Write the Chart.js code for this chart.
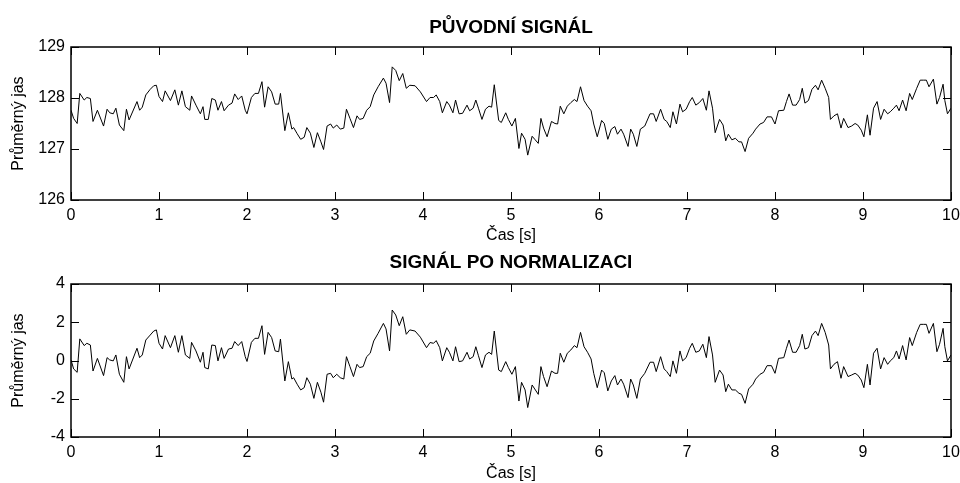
<!DOCTYPE html>
<html>
<head>
<meta charset="utf-8">
<script src="https://cdn.jsdelivr.net/npm/chart.js@4/dist/chart.umd.min.js"></script>
<style>
  html, body { margin: 0; padding: 0; background: #fff; }
  #wrap { position: relative; width: 960px; height: 483px; }
  canvas { position: absolute; left: 0; }
  #cTop { top: 0; }
  #cBottom { top: 250px; }
</style>
</head>
<body>
<div id="wrap">
  <canvas id="cTop" width="960" height="250"></canvas>
  <canvas id="cBottom" width="960" height="233"></canvas>
</div>
<script>
// Sample times [s]
const timeSec = [
  0, 0.03, 0.07, 0.10, 0.15, 0.18, 0.22, 0.25, 0.30, 0.37, 0.41, 0.44, 0.48, 0.51, 0.55, 0.60, 0.63, 0.66, 0.75, 0.78, 0.81, 0.85, 0.90, 0.94, 0.97,
  1.00, 1.04, 1.07, 1.13, 1.18, 1.22, 1.26, 1.30, 1.35, 1.37, 1.42, 1.47, 1.50, 1.52, 1.56, 1.60, 1.64, 1.67, 1.71, 1.74, 1.79, 1.83, 1.86, 1.90, 1.94, 1.98,
  2.00, 2.05, 2.09, 2.13, 2.17, 2.20, 2.24, 2.28, 2.32, 2.36, 2.38, 2.43, 2.47, 2.51, 2.53, 2.57, 2.61, 2.65, 2.68, 2.72, 2.76, 2.80, 2.84, 2.87, 2.91, 2.95, 2.98,
  3.02, 3.06, 3.10, 3.13, 3.17, 3.21, 3.25, 3.28, 3.32, 3.36, 3.40, 3.44, 3.49, 3.55, 3.58, 3.62, 3.65, 3.69, 3.73, 3.77, 3.81, 3.85, 3.91, 3.97,
  4.04, 4.08, 4.12, 4.15, 4.19, 4.22, 4.27, 4.30, 4.34, 4.37, 4.41, 4.45, 4.50, 4.53, 4.57, 4.60, 4.63, 4.67, 4.71, 4.75, 4.78, 4.81, 4.86, 4.89, 4.94, 4.97,
  5.01, 5.05, 5.09, 5.12, 5.16, 5.19, 5.24, 5.27, 5.31, 5.34, 5.37, 5.41, 5.46, 5.50, 5.53, 5.56, 5.60, 5.64, 5.68, 5.72, 5.75, 5.79, 5.83, 5.87, 5.91, 5.94, 5.98,
  6.03, 6.06, 6.10, 6.14, 6.18, 6.21, 6.25, 6.28, 6.33, 6.36, 6.39, 6.43, 6.47, 6.52, 6.58, 6.62, 6.65, 6.70, 6.74, 6.77, 6.81, 6.84, 6.88, 6.92, 6.95, 6.99,
  7.03, 7.06, 7.10, 7.14, 7.18, 7.22, 7.25, 7.29, 7.32, 7.37, 7.41, 7.44, 7.47, 7.51, 7.55, 7.59, 7.62, 7.66, 7.70, 7.75, 7.78, 7.83, 7.87, 7.91, 7.96, 8.00,
  8.04, 8.10, 8.13, 8.16, 8.20, 8.24, 8.28, 8.31, 8.34, 8.38, 8.42, 8.46, 8.49, 8.53, 8.57, 8.61, 8.63, 8.67, 8.71, 8.75, 8.78, 8.83, 8.87, 8.91, 8.94, 8.98,
  9.01, 9.05, 9.08, 9.12, 9.16, 9.20, 9.24, 9.28, 9.31, 9.35, 9.38, 9.41, 9.45, 9.49, 9.53, 9.56, 9.61, 9.65, 9.69, 9.72, 9.75, 9.80, 9.84, 9.87, 9.91, 9.93, 9.96, 10.0
];

// Mean brightness of the raw signal
const originalSignal = [
  127.76, 127.60, 127.50, 128.09, 127.96, 128.01, 127.99, 127.54, 127.76, 127.45, 127.78, 127.71, 127.69, 127.80, 127.47, 127.36, 127.78, 127.57, 127.93, 127.76, 127.82, 128.06, 128.17, 128.24, 128.25,
  128.03, 127.93, 128.14, 127.95, 128.16, 127.86, 128.14, 127.83, 127.76, 128.04, 127.86, 127.69, 127.83, 127.58, 127.58, 127.99, 127.96, 127.76, 127.93, 127.75, 127.86, 127.90, 128.08, 127.97, 128.04, 127.76,
  127.69, 128.01, 128.09, 128.09, 128.32, 127.82, 128.22, 128.12, 127.88, 127.88, 128.09, 127.36, 127.71, 127.39, 127.42, 127.30, 127.19, 127.23, 127.42, 127.31, 127.03, 127.32, 127.14, 126.99, 127.45, 127.49, 127.41,
  127.47, 127.39, 127.41, 127.78, 127.60, 127.42, 127.65, 127.58, 127.60, 127.76, 127.83, 128.06, 128.22, 128.39, 128.29, 127.91, 128.61, 128.54, 128.34, 128.48, 128.19, 128.25, 128.24, 128.12,
  127.93, 128.01, 128.01, 128.06, 127.93, 127.71, 127.93, 127.86, 127.71, 127.96, 127.69, 127.70, 127.86, 127.75, 127.80, 127.96, 127.80, 127.58, 127.78, 127.84, 127.82, 128.26, 127.56, 127.52, 127.71, 127.58,
  127.45, 127.60, 127.01, 127.31, 127.19, 126.88, 127.25, 127.19, 127.11, 127.60, 127.41, 127.24, 127.54, 127.50, 127.49, 127.84, 127.69, 127.84, 127.91, 127.97, 127.93, 128.22, 127.95, 127.84, 127.75, 127.49, 127.24,
  127.56, 127.50, 127.19, 127.39, 127.44, 127.29, 127.39, 127.29, 127.05, 127.39, 127.29, 127.05, 127.39, 127.45, 127.69, 127.69, 127.54, 127.78, 127.58, 127.54, 127.42, 127.73, 127.49, 127.88, 127.73, 127.78,
  127.93, 128.01, 127.86, 127.91, 127.99, 127.76, 128.14, 127.80, 127.32, 127.58, 127.47, 127.16, 127.29, 127.18, 127.21, 127.14, 127.14, 126.95, 127.21, 127.31, 127.39, 127.49, 127.52, 127.63, 127.63, 127.49,
  127.75, 127.76, 127.93, 128.08, 127.86, 127.86, 127.97, 128.19, 127.90, 127.95, 128.17, 128.25, 128.16, 128.35, 128.19, 128.01, 127.58, 127.65, 127.69, 127.41, 127.60, 127.42, 127.45, 127.50, 127.47, 127.37,
  127.24, 127.67, 127.27, 127.80, 127.93, 127.58, 127.78, 127.69, 127.73, 127.80, 127.86, 127.75, 127.96, 127.75, 128.09, 127.97, 128.19, 128.35, 128.35, 128.35, 128.22, 128.37, 127.88, 128.01, 128.27, 127.95, 127.69, 127.80
];

// Brightness after normalization
const normalizedSignal = [
  0.03, -0.44, -0.62, 1.13, 0.78, 0.90, 0.81, -0.55, 0.11, -0.79, 0.15, 0.03, -0.02, 0.29, -0.72, -1.14, 0.20, -0.44, 0.64, 0.15, 0.29, 1.07, 1.33, 1.54, 1.60,
  0.90, 0.60, 1.30, 0.67, 1.30, 0.43, 1.30, 0.29, 0.11, 0.95, 0.50, -0.09, 0.43, -0.37, -0.44, 0.81, 0.78, -0.02, 0.67, 0.11, 0.60, 0.64, 0.99, 0.78, 0.99, 0.20,
  -0.05, 0.95, 1.16, 1.16, 1.82, 0.32, 1.47, 1.20, 0.50, 0.46, 1.12, -1.07, -0.06, -0.97, -0.90, -1.24, -1.54, -1.42, -0.90, -1.24, -1.98, -1.14, -1.66, -2.18, -0.72, -0.67, -0.90,
  -0.72, -0.90, -0.97, 0.20, -0.32, -0.84, -0.20, -0.37, -0.32, 0.20, 0.38, 1.02, 1.42, 1.94, 1.65, 0.50, 2.64, 2.38, 1.82, 2.29, 1.37, 1.60, 1.54, 1.22,
  0.67, 0.94, 0.90, 1.04, 0.67, -0.02, 0.67, 0.43, -0.02, 0.72, -0.06, -0.02, 0.43, 0.08, 0.20, 0.72, 0.25, -0.37, 0.29, 0.43, 0.32, 1.54, -0.50, -0.58, -0.06, -0.37,
  -0.72, -0.32, -2.12, -1.14, -1.54, -2.46, -1.28, -1.49, -1.77, -0.32, -0.84, -1.37, -0.55, -0.67, -0.67, 0.38, -0.09, 0.38, 0.55, 0.78, 0.67, 1.47, 0.72, 0.43, 0.08, -0.67, -1.42,
  -0.50, -0.64, -1.59, -1.07, -0.79, -1.28, -0.97, -1.24, -1.94, -0.97, -1.28, -1.98, -0.97, -0.67, -0.09, -0.09, -0.58, 0.20, -0.44, -0.58, -0.84, -0.02, -0.67, 0.50, -0.02, 0.15,
  0.64, 0.90, 0.43, 0.50, 0.85, 0.15, 1.25, 0.29, -1.14, -0.50, -0.76, -1.63, -1.24, -1.54, -1.54, -1.71, -1.77, -2.24, -1.49, -1.24, -0.97, -0.72, -0.62, -0.27, -0.27, -0.67,
  0.11, 0.15, 0.64, 1.07, 0.43, 0.43, 0.78, 1.37, 0.60, 0.67, 1.30, 1.54, 1.30, 1.94, 1.47, 0.81, -0.44, -0.20, -0.06, -0.93, -0.32, -0.84, -0.76, -0.67, -0.76, -1.02,
  -1.42, -0.20, -1.28, 0.38, 0.64, -0.44, 0.15, -0.20, -0.02, 0.15, 0.50, 0.08, 0.78, 0.03, 1.20, 0.78, 1.47, 1.89, 1.89, 1.89, 1.42, 1.94, 0.46, 0.85, 1.68, 0.72, -0.02, 0.29
];

const xTicks = [0, 1, 2, 3, 4, 5, 6, 7, 8, 9, 10];
const yTicksTop = [126, 127, 128, 129];
const yTicksBottom = [-4, -2, 0, 2, 4];

const titleTop = 'PŮVODNÍ SIGNÁL';
const titleBottom = 'SIGNÁL PO NORMALIZACI';
const xLabel = 'Čas [s]';
const yLabel = 'Průměrný jas';

const FONT = "'Liberation Sans', Arial, Helvetica, sans-serif";
Chart.defaults.font.family = FONT;
Chart.defaults.color = '#000';

// Box frame plus short inward ticks on all four sides
const boxedAxes = {
  id: 'boxedAxes',
  afterDatasetsDraw(chart) {
    const { ctx, chartArea: a, scales: { x, y } } = chart;
    const len = 8;
    ctx.save();
    ctx.strokeStyle = '#000';
    ctx.lineWidth = 1;
    ctx.beginPath();
    x.ticks.forEach(t => {
      const px = Math.round(x.getPixelForValue(t.value)) + 0.5;
      ctx.moveTo(px, a.bottom); ctx.lineTo(px, a.bottom - len);
      ctx.moveTo(px, a.top); ctx.lineTo(px, a.top + len);
    });
    y.ticks.forEach(t => {
      const py = Math.round(y.getPixelForValue(t.value)) + 0.5;
      ctx.moveTo(a.left, py); ctx.lineTo(a.left + len, py);
      ctx.moveTo(a.right, py); ctx.lineTo(a.right - len, py);
    });
    ctx.stroke();
    ctx.lineWidth = 1.5;
    ctx.strokeRect(a.left, a.top, a.right - a.left, a.bottom - a.top);
    ctx.restore();
  }
};

function makePanel(canvasId, values, yTicks, title, titlePad, xAxisHeight, xTitlePad) {
  const points = timeSec.map((t, i) => ({ x: t, y: values[i] }));
  return new Chart(document.getElementById(canvasId), {
    type: 'line',
    data: {
      datasets: [{
        data: points,
        borderColor: '#000',
        borderWidth: 1,
        pointRadius: 0,
        tension: 0,
        fill: false
      }]
    },
    options: {
      responsive: false,
      animation: false,
      events: [],
      layout: { padding: { left: 0, right: 9, top: 0, bottom: 0 } },
      plugins: {
        legend: { display: false },
        tooltip: { enabled: false },
        title: {
          display: true,
          fullSize: false,
          text: title,
          color: '#000',
          font: { size: 19, weight: 'bold', family: FONT, lineHeight: 1.2 },
          padding: titlePad
        }
      },
      scales: {
        x: {
          type: 'linear',
          min: xTicks[0],
          max: xTicks[xTicks.length - 1],
          afterBuildTicks: s => { s.ticks = xTicks.map(v => ({ value: v })); },
          afterFit: s => { s.height = xAxisHeight; s.paddingLeft = 0; s.paddingRight = 0; },
          grid: { display: false, drawTicks: false, tickLength: 0 },
          border: { display: false },
          ticks: { autoSkip: false, maxRotation: 0, padding: 6, color: '#000', font: { size: 16 } },
          title: { display: true, text: xLabel, color: '#000', font: { size: 16, lineHeight: 1 }, padding: { top: 0, bottom: xTitlePad } }
        },
        y: {
          type: 'linear',
          min: yTicks[0],
          max: yTicks[yTicks.length - 1],
          afterBuildTicks: s => { s.ticks = yTicks.map(v => ({ value: v })); },
          afterFit: s => { s.width = 71; s.paddingTop = 0; s.paddingBottom = 0; },
          grid: { display: false, drawTicks: false, tickLength: 0 },
          border: { display: false },
          ticks: { padding: 6, color: '#000', font: { size: 16 } },
          title: { display: true, text: yLabel, color: '#000', font: { size: 16, lineHeight: 1 }, padding: { top: 10.5, bottom: 0 } }
        }
      }
    },
    plugins: [boxedAxes]
  });
}

makePanel('cTop', originalSignal, yTicksTop, titleTop, { top: 16.6, bottom: 7.6 }, 50, 6);
makePanel('cBottom', normalizedSignal, yTicksBottom, titleBottom, { top: 1.6, bottom: 9.6 }, 46, 1);
</script>
</body>
</html>
